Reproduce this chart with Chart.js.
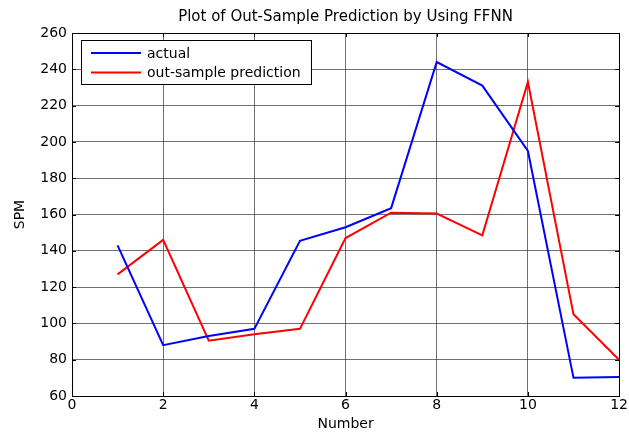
<!DOCTYPE html>
<html><head><meta charset="utf-8">
<script src="https://cdn.jsdelivr.net/npm/chart.js@4"></script>
<style>html,body{margin:0;padding:0;background:#fff}#w{width:629px;height:433px}</style>
</head><body><div id="w"><canvas id="c"></canvas></div>
<script>
const numbers = [1,2,3,4,5,6,7,8,9,10,11,12];
const actual = [143,88,93,97,145.5,153,163.5,244,231,195,70,70.5];
const prediction = [127,146,90.5,94,97,147,161,160.5,148.5,233,105,80];
const xTicks = [0,2,4,6,8,10,12];
const yTicks = [60,80,100,120,140,160,180,200,220,240,260];
const FONT = "'DejaVu Sans', Verdana, sans-serif";

const frame = {
  id:'frame',
  afterDraw(chart){
    const {ctx, chartArea:a, scales:{x,y}} = chart;
    ctx.save();
    ctx.strokeStyle='#000'; ctx.lineWidth=1;
    ctx.strokeRect(Math.round(a.left)+0.5, Math.round(a.top)+0.5, Math.round(a.right-a.left), Math.round(a.bottom-a.top));
    ctx.beginPath();
    xTicks.forEach(v=>{const px=Math.round(x.getPixelForValue(v))+0.5;
      ctx.moveTo(px,a.bottom);ctx.lineTo(px,a.bottom-4);ctx.moveTo(px,a.top);ctx.lineTo(px,a.top+4);});
    yTicks.forEach(v=>{const py=Math.round(y.getPixelForValue(v))+0.5;
      ctx.moveTo(a.left,py);ctx.lineTo(a.left+4,py);ctx.moveTo(a.right,py);ctx.lineTo(a.right-4,py);});
    ctx.stroke();
    // legend box
    const lx=Math.round(a.left)+9, ly=Math.round(a.top)+7, lw=230, lh=44;
    ctx.fillStyle='#fff'; ctx.fillRect(lx,ly,lw,lh);
    ctx.strokeRect(lx+0.5,ly+0.5,lw,lh);
    ctx.font='14px '+FONT; ctx.textBaseline='middle'; ctx.fillStyle='#000';
    chart.data.datasets.forEach((ds,i)=>{
      const yy=ly+13+i*19.5;
      ctx.strokeStyle=ds.borderColor; ctx.lineWidth=2;
      ctx.beginPath(); ctx.moveTo(lx+10,yy); ctx.lineTo(lx+60,yy); ctx.stroke();
      ctx.fillText(ds.label, lx+66, yy+1);
    });
    ctx.restore();
  }
};

new Chart(document.getElementById('c'),{
  type:'line',
  data:{datasets:[
    {label:'actual',data:numbers.map((n,i)=>({x:n,y:actual[i]})),borderColor:'#0000ff',borderWidth:2,pointRadius:0,tension:0,fill:false},
    {label:'out-sample prediction',data:numbers.map((n,i)=>({x:n,y:prediction[i]})),borderColor:'#ff0000',borderWidth:2,pointRadius:0,tension:0,fill:false}
  ]},
  options:{
    responsive:true,maintainAspectRatio:false,animation:false,
    layout:{padding:{top:0,right:8,left:0,bottom:0}},
    plugins:{
      legend:{display:false},tooltip:{enabled:false},
      title:{display:true,fullSize:false,text:'Plot of Out-Sample Prediction by Using FFNN',color:'#000',font:{family:FONT,size:15,weight:'normal'},padding:{top:8,bottom:7}}
    },
    scales:{
      x:{type:'linear',min:0,max:12,
        afterBuildTicks(s){s.ticks=xTicks.map(v=>({value:v}));},
        afterFit(s){s.height=37;},
        grid:{color:'#333',lineWidth:0.7,borderDash:[1,2],drawTicks:false},
        border:{display:false},
        ticks:{color:'#000',font:{family:FONT,size:14},padding:1,maxRotation:0},
        title:{display:true,text:'Number',color:'#000',font:{family:FONT,size:14},padding:{top:0,bottom:0}}
      },
      y:{min:60,max:260,
        afterBuildTicks(s){s.ticks=yTicks.map(v=>({value:v}));},
        afterFit(s){s.width=72;},
        grid:{color:'#333',lineWidth:0.7,borderDash:[1,2],drawTicks:false},
        border:{display:false},
        ticks:{color:'#000',font:{family:FONT,size:14},padding:5},
        title:{display:true,text:'SPM',color:'#000',font:{family:FONT,size:14},padding:{top:12,bottom:3}}
      }
    }
  },
  plugins:[frame]
});
</script></body></html>
